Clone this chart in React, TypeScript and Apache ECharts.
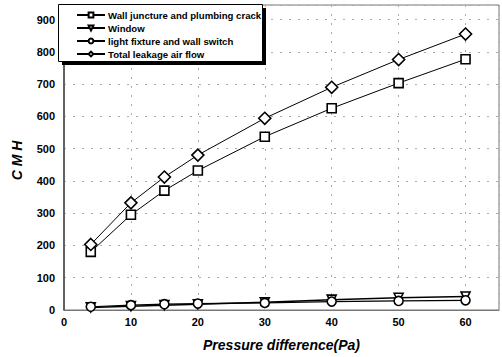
import React, { useEffect, useRef } from "react";
import * as echarts from "echarts";

const pressure = [4, 10, 15, 20, 30, 40, 50, 60];
const wallJuncture = [180, 295, 370, 432, 537, 625, 703, 777];
const windowLeak = [8, 12, 15, 18, 24, 32, 38, 42];
const lightFixture = [10, 15, 18, 20, 22, 26, 28, 30];
const totalLeak = [203, 332, 412, 480, 594, 690, 776, 855];
const seriesNames = [
  "Wall juncture and plumbing crack",
  "Window",
  "light fixture and wall switch",
  "Total leakage air flow",
];

const FONT = "Liberation Sans, Arial, sans-serif";

function pairs(ys: number[]) {
  return pressure.map((x, i) => [x, ys[i]]);
}

export default function App() {
  const ref = useRef<HTMLDivElement>(null);
  useEffect(() => {
    if (!ref.current) return;
    const chart = echarts.init(ref.current, undefined, { renderer: "svg" });
    const mk = (name: string, data: number[], symbol: string, size: number, lw: number) => ({
      name,
      type: "line",
      data: pairs(data),
      symbol,
      symbolSize: size,
      showAllSymbol: true,
      lineStyle: { color: "#000", width: lw },
      itemStyle: { color: "#fff", borderColor: "#000", borderWidth: 1.6 },
      z: 3,
    });
    chart.setOption({
      animation: false,
      backgroundColor: "#fff",
      grid: {
        left: 64,
        right: 3,
        top: 5,
        bottom: 47,
        show: true,
        borderColor: "#777",
        borderWidth: 1,
      },
      graphic: [
        { type: "rect", z: 5, shape: { x: 62, y: 8, width: 204, height: 57 }, style: { fill: "#000" } },
        { type: "rect", z: 6, shape: { x: 58.5, y: 4.5, width: 204, height: 57 }, style: { fill: "#fff", stroke: "#000", lineWidth: 1 } },
      ],
      legend: {
        orient: "vertical",
        left: 76,
        top: 10,
        padding: 0,
        itemGap: 3,
        itemWidth: 28,
        itemHeight: 6,
        textStyle: { fontFamily: FONT, fontSize: 9.6, fontWeight: "bold", color: "#000", lineHeight: 10, padding: [0, 0, 0, -2] },
        data: seriesNames,
        z: 10,
      },
      xAxis: {
        type: "value",
        min: 0,
        max: 65,
        interval: 10,
        name: "Pressure difference(Pa)",
        nameLocation: "middle",
        nameGap: 35,
        nameTextStyle: { fontFamily: FONT, fontSize: 14, fontWeight: "bold", fontStyle: "italic", color: "#000", verticalAlign: "middle" },
        axisLine: { show: true, lineStyle: { color: "#777" } },
        axisTick: { show: false },
        axisLabel: { fontFamily: FONT, fontSize: 11, fontWeight: "bold", color: "#000", showMaxLabel: false, margin: 6 },
        splitLine: { show: true, lineStyle: { color: "#aaa", type: [2, 7], width: 1 } },
      },
      yAxis: {
        type: "value",
        min: 0,
        max: 945,
        interval: 100,
        name: "C M H",
        nameLocation: "middle",
        nameGap: 40,
        nameRotate: 90,
        nameTextStyle: { fontFamily: FONT, fontSize: 14, fontWeight: "bold", fontStyle: "italic", color: "#000", padding: [0, 6, 0, 0] },
        axisLine: { show: true, lineStyle: { color: "#444", width: 1.5 } },
        axisTick: { show: false },
        axisLabel: { fontFamily: FONT, fontSize: 11, fontWeight: "bold", color: "#000", showMaxLabel: false, margin: 9 },
        splitLine: { show: true, lineStyle: { color: "#aaa", type: [2, 7], width: 1 } },
      },
      series: [
        mk(seriesNames[0], wallJuncture, "rect", 9, 1),
        mk(seriesNames[1], windowLeak, "path://M0,0 L10,0 L5,10 Z", 9, 1.5),
        mk(seriesNames[2], lightFixture, "circle", 9, 1.2),
        mk(seriesNames[3], totalLeak, "diamond", 12, 1),
      ],
    });
    return () => chart.dispose();
  }, []);
  return <div ref={ref} style={{ position: "absolute", left: 0, top: 0, width: 502, height: 357 }} />;
}
